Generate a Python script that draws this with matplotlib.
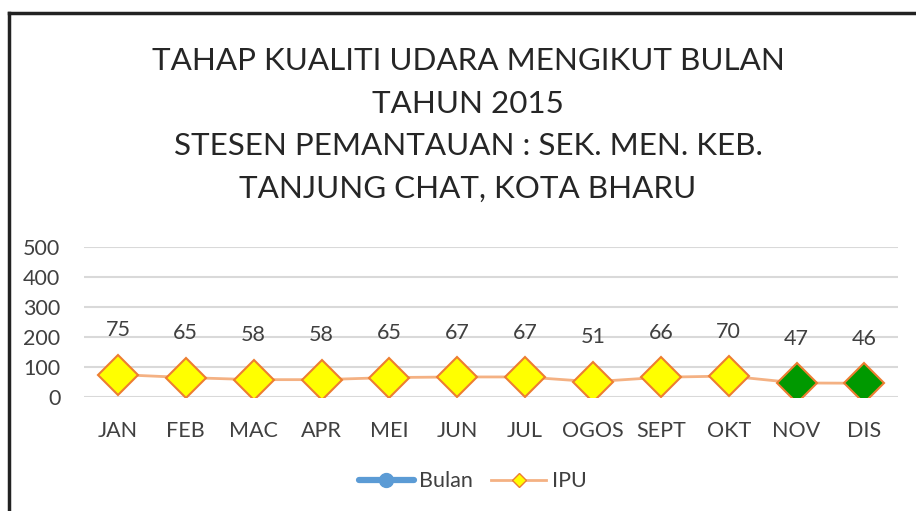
import matplotlib
matplotlib.use("Agg")
import matplotlib.pyplot as plt
from matplotlib.lines import Line2D

plt.rcParams['font.family'] = ['Lato', 'DejaVu Sans']

bulan = ['JAN', 'FEB', 'MAC', 'APR', 'MEI', 'JUN', 'JUL', 'OGOS', 'SEPT', 'OKT', 'NOV', 'DIS']
ipu = [75, 65, 58, 58, 65, 67, 67, 51, 66, 70, 47, 46]
yticks = [0, 100, 200, 300, 400, 500]

title = ("TAHAP KUALITI UDARA MENGIKUT BULAN\nTAHUN 2015\n"
         "STESEN PEMANTAUAN : SEK. MEN. KEB.\nTANJUNG CHAT, KOTA BHARU")

text_col = '#404040'
line_col = '#f4b183'
edge_col = '#ed7d31'

fig = plt.figure(figsize=(9.16, 5.11), dpi=100, facecolor='white')
ax = fig.add_axes([0.0917, 0.223, 0.889, 0.2935])

x = list(range(len(bulan)))
ax.plot(x, ipu, color=line_col, lw=2, zorder=2)
for xi, v in zip(x, ipu):
    face = '#009900' if v <= 50 else '#ffff00'
    ax.plot(xi, v, marker='D', ms=20, mfc=face, mec=edge_col, mew=1.5, zorder=3)
    ax.annotate(str(v), (xi, v), xytext=(0, 32), textcoords='offset points',
                ha='center', va='center', fontsize=15.5, color=text_col)

ax.set_xlim(-0.5, len(bulan) - 0.5)
ax.set_ylim(0, 500)
ax.set_yticks(yticks)
ax.set_xticks(x)
ax.set_xticklabels(bulan)
ax.tick_params(axis='both', length=0, labelsize=15.5, colors=text_col)
ax.tick_params(axis='y', pad=17)
ax.tick_params(axis='x', pad=17)
ax.grid(axis='y', color='#d9d9d9', lw=1.5)
ax.set_axisbelow(True)
for s in ax.spines.values():
    s.set_visible(False)

fig.text(0.511, 0.755, title, ha='center', va='center', fontsize=22.6,
         color='#262626', linespacing=1.63)

handles = [
    Line2D([], [], color='#5b9bd5', lw=4.5, marker='o', ms=10, solid_capstyle='round'),
    Line2D([], [], color=line_col, lw=2, marker='D', ms=7.5, mfc='#ffff00', mec=edge_col),
]
fig.legend(handles, ['Bulan', 'IPU'], loc='center', bbox_to_anchor=(0.516, 0.058),
           ncol=2, frameon=False, fontsize=15.5, handlelength=2.55, columnspacing=0.85,
           labelcolor=text_col, handletextpad=0.25)

# frame around the chart
fig.add_artist(Line2D([0.0095, 0.0095], [0, 0.975], color='#222222', lw=2.5))
fig.add_artist(Line2D([0.0095, 1.0], [0.975, 0.975], color='#222222', lw=2.5))

fig.savefig('out.png', dpi=100, facecolor='white')
